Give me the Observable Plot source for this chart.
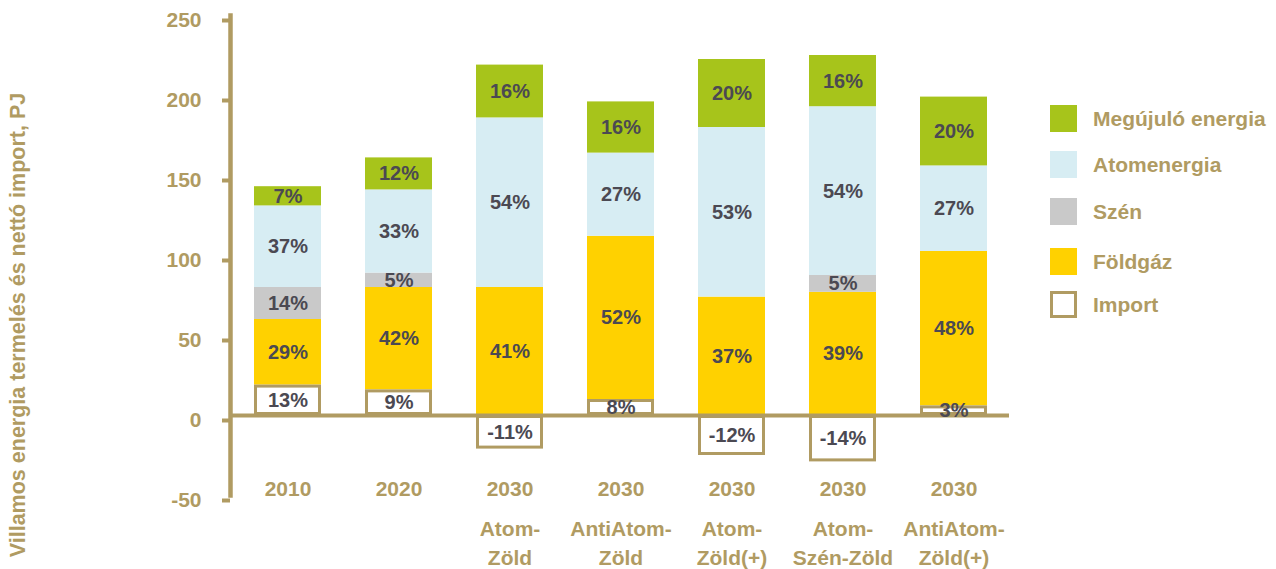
<!DOCTYPE html>
<html><head><meta charset="utf-8">
<script src="https://cdn.jsdelivr.net/npm/d3@7"></script>
<script src="https://cdn.jsdelivr.net/npm/@observablehq/plot@0.6"></script>
<style>
body{margin:0;background:#fff;font-family:Arial,"Liberation Sans",sans-serif;}
#wrap{position:relative;width:1276px;height:569px;overflow:hidden;}
#legend{position:absolute;left:1050px;top:0;}
.item{position:absolute;left:0;display:flex;align-items:center;white-space:nowrap;font-weight:bold;font-size:21px;color:#B09B62;height:27px;}
.sw{width:27px;height:27px;box-sizing:border-box;margin-right:16px;flex:none;}
#ylabel{position:absolute;left:18px;top:325px;transform:translate(-50%,-50%) rotate(-90deg);white-space:nowrap;font-weight:bold;font-size:21.5px;color:#B09B62;}
</style></head><body>
<div id="wrap"><div id="chart"></div><div id="legend"></div><div id="ylabel"></div></div>
<script>
// ---- data ----
const categories = ["2010","2020","2030 Atom-Zöld","2030 AntiAtom-Zöld","2030 Atom-Zöld(+)","2030 Atom-Szén-Zöld","2030 AntiAtom-Zöld(+)"];
const years = ["2010","2020","2030","2030","2030","2030","2030"];
const scenarios = ["","","Atom-\nZöld","AntiAtom-\nZöld","Atom-\nZöld(+)","Atom-\nSzén-Zöld","AntiAtom-\nZöld(+)"];
const series = ["Import","Földgáz","Szén","Atomenergia","Megújuló energia"];
const legendOrder = ["Megújuló energia","Atomenergia","Szén","Földgáz","Import"];
const importPJ   = [19, 16, -21, 10, -25, -29, 6];
const foldgazPJ  = [41, 64, 80, 102, 74, 77, 96.5];
const szenPJ     = [20, 9, 0, 0, 0, 10.5, 0];
const atomPJ     = [51, 52, 106, 52, 106, 105.5, 53.5];
const megujuloPJ = [12, 20, 33, 32, 42.5, 32, 43];
const importPct   = ["13%","9%","-11%","8%","-12%","-14%","3%"];
const foldgazPct  = ["29%","42%","41%","52%","37%","39%","48%"];
const szenPct     = ["14%","5%","","","","5%",""];
const atomPct     = ["37%","33%","54%","27%","53%","54%","27%"];
const megujuloPct = ["7%","12%","16%","16%","20%","16%","20%"];
const yTicks = [-50, 0, 50, 100, 150, 200, 250];
const yLabel = "Villamos energia termelés és nettó import, PJ";

// ---- style ----
const tan = "#B09B62";
const textDark = "#4B4952";
const colors = ["#FFFFFF", "#FFD100", "#C9C9C9", "#D7EDF3", "#A7C41B"];

const values = [importPJ, foldgazPJ, szenPJ, atomPJ, megujuloPJ];
const pcts = [importPct, foldgazPct, szenPct, atomPct, megujuloPct];
const rows = [];
categories.forEach((c, i) => {
  series.forEach((s, j) => {
    const v = values[j][i];
    if (v !== 0) rows.push({cat: c, series: s, value: v, label: pcts[j][i]});
  });
});

const chart = Plot.plot({
  width: 1276, height: 569,
  marginLeft: 232, marginRight: 267, marginTop: 15, marginBottom: 74,
  style: {fontFamily: 'Arial, "Liberation Sans", sans-serif', fontWeight: "bold", fontSize: "20px", background: "#fff", overflow: "visible"},
  x: {domain: categories, paddingInner: 0.4, paddingOuter: 0.2, axis: null},
  y: {domain: [-50, 250], axis: null},
  color: {domain: series, range: colors},
  marks: [
    Plot.barY(rows, Plot.stackY({x: "cat", y: "value", fill: "series", order: series})),
    Plot.barY(rows.filter(d => d.series === "Import"), {x: "cat", y: "value", fill: "none", stroke: tan, strokeWidth: 3, inset: 1.5}),
    Plot.ruleY([0], {stroke: tan, strokeWidth: 4}),
    Plot.frame({anchor: "left", stroke: tan, strokeWidth: 4.5, dx: -2}),
    Plot.axisY({ticks: yTicks, tickFormat: d => String(d), tickSize: 8, stroke: tan, strokeWidth: 4, tickPadding: 21, dx: -2, dy: 5,
      fill: tan, fontSize: 21, fontWeight: "bold", label: null}),
    Plot.text(rows, Plot.stackY({x: "cat", y: "value", z: "series", text: "label", order: series, fill: textDark, fontSize: 20, fontWeight: "bold"})),
    Plot.text(categories, {x: d => d, text: (d, i) => years[i], frameAnchor: "bottom", lineAnchor: "middle", dy: -6, fill: tan, fontSize: 21, fontWeight: "bold"}),
    Plot.text(categories, {x: d => d, text: (d, i) => scenarios[i], frameAnchor: "bottom", lineAnchor: "middle", dy: 46, lineHeight: 1.35, fill: tan, fontSize: 21, fontWeight: "bold"})
  ]
});
document.getElementById("chart").appendChild(chart);
document.getElementById("ylabel").textContent = yLabel;

// ---- legend ----
const legend = document.getElementById("legend");
const legendTops = [105, 151, 198, 248, 291];
legendOrder.forEach((s, k) => {
  const idx = series.indexOf(s);
  const item = document.createElement("div");
  item.className = "item";
  item.style.top = legendTops[k] + "px";
  const sw = document.createElement("div");
  sw.className = "sw";
  sw.style.background = colors[idx];
  if (s === "Import") sw.style.border = "3px solid " + tan;
  const t = document.createElement("span");
  t.textContent = s;
  item.appendChild(sw); item.appendChild(t);
  legend.appendChild(item);
});
</script>
</body></html>
